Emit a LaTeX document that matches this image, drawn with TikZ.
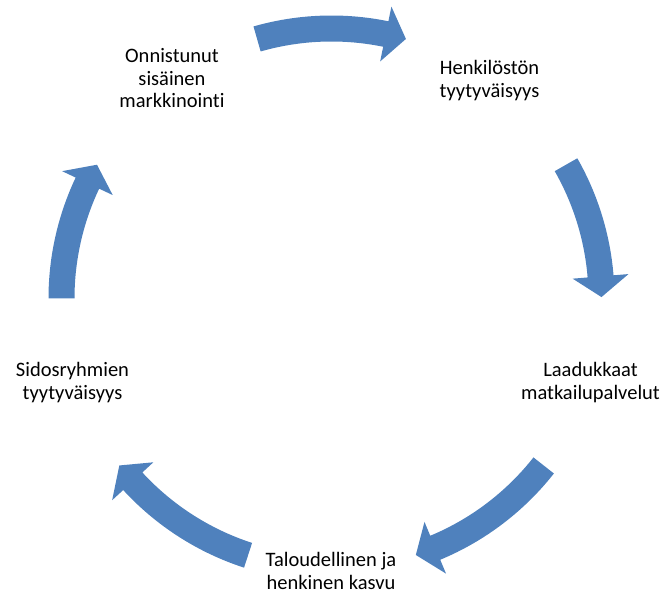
\documentclass[tikz,border=0pt]{standalone}
\usepackage{fontspec}
\setmainfont{Carlito}[Ligatures=NoCommon]
\definecolor{arrowblue}{HTML}{4F81BD}
% curved block arrow on the cycle circle: #1 = tail angle, #2 = tip angle
\newcommand\cyclearrowpath[2]{%
  \fill[cyclearrow] ({#1}:{\R+\w})
    arc[start angle={#1}, end angle={#2+\hl}, radius={\R+\w}]
    -- ({#2+\hl}:{\R+\hw}) -- ({#2}:{\R}) -- ({#2+\hl}:{\R-\hw})
    -- ({#2+\hl}:{\R-\w})
    arc[start angle={#2+\hl}, end angle={#1}, radius={\R-\w}] -- cycle;}
\begin{document}
\begin{tikzpicture}[x=1pt,y=1pt,
  steplabel/.style={font=\fontsize{20.5}{22.6}\selectfont, align=center,
    anchor=base, inner sep=0pt, text=black},
  cyclearrow/.style={fill=arrowblue, draw=none}]
\useasboundingbox (0,0) rectangle (665,594);
\def\R{270}\def\w{13}\def\hw{28}\def\hl{4.4}
% the five steps of the cycle (anchored at the baseline of the last line)
\node[steplabel] (marketing) at (172,486.1) {Onnistunut\\sisäinen\\markkinointi};
\node[steplabel] (staff) at (489.5,496.4) {Henkilöstön\\tyytyväisyys};
\node[steplabel] (services) at (590.5,194.7) {Laadukkaat\\matkailupalvelut};
\node[steplabel] (growth) at (331,4.7) {Taloudellinen ja\\henkinen kasvu};
\node[steplabel] (stakeholders) at (72.5,194.7) {Sidosryhmien\\tyytyväisyys};
% arrows between the steps, clockwise
\begin{scope}[shift={(331.5,295.5)}]
  \cyclearrowpath{106}{74}
  \cyclearrowpath{29.7}{0.3}
  \cyclearrowpath{-38.2}{-71.8}
  \cyclearrowpath{-108}{-141.8}
  \cyclearrowpath{180}{150.3}
\end{scope}
\end{tikzpicture}
\end{document}
